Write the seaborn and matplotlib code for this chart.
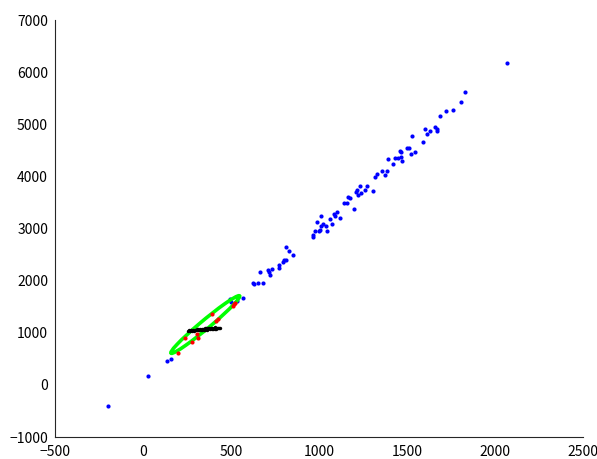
import numpy as np
import pandas as pd
import seaborn as sns
import matplotlib.pyplot as plt
from matplotlib.patches import Ellipse

# blue: all observations
blue_x = [-199, 28, 136, 159, 494, 500, 532, 570, 627, 633, 655, 680, 667, 708, 718, 731,
          722, 771, 773, 797, 803, 811, 811, 831, 852, 964, 968, 976, 1000, 987, 1007,
          1011, 1011, 1021, 1040, 1044, 1062, 1072, 1085, 1091, 1101, 1119, 1140, 1159,
          1167, 1178, 1199, 1208, 1214, 1223, 1235, 1239, 1263, 1273, 1309, 1320, 1328,
          1360, 1373, 1388, 1392, 1422, 1432, 1449, 1458, 1468, 1466, 1473, 1498, 1511,
          1525, 1545, 1527, 1589, 1602, 1614, 1631, 1661, 1669, 1672, 1687, 1722, 1760,
          1805, 1828, 2068]
blue_y = [-405, 171, 458, 497, 1648, 1584, 1609, 1673, 1961, 1930, 1961, 1949, 2166, 2204,
          2160, 2217, 2108, 2294, 2242, 2351, 2396, 2402, 2639, 2575, 2486, 2843, 2876,
          2946, 2958, 3119, 2971, 3240, 3048, 3081, 3054, 2958, 3182, 3081, 3278, 3246,
          3311, 3207, 3483, 3483, 3611, 3579, 3368, 3707, 3739, 3643, 3815, 3687, 3739,
          3815, 3720, 3982, 4046, 4109, 4032, 4109, 4328, 4243, 4347, 4347, 4493, 4468,
          4372, 4289, 4550, 4538, 4429, 4468, 4780, 4654, 4909, 4807, 4876, 4953, 4909,
          4876, 5164, 5254, 5273, 5433, 5613, 6181]

# red: subset inside the ellipse
red_x = [197, 239, 277, 305, 311, 390, 415, 428, 510, 517, 523]
red_y = [618, 894, 829, 970, 906, 1360, 1232, 1270, 1520, 1552, 1577]

# black: projected points
black_x = [255, 262, 268, 275, 281, 287, 292, 297, 302, 306, 311, 315, 320, 324, 328, 333,
           337, 341, 346, 350, 354, 359, 363, 367, 372, 376, 381, 385, 390, 394, 399, 403,
           408, 412, 417, 421, 426, 432, 437]
black_y = [1036, 1044, 1034, 1050, 1040, 1058, 1042, 1061, 1047, 1064, 1045, 1068, 1052,
           1072, 1050, 1074, 1057, 1080, 1055, 1083, 1060, 1087, 1062, 1090, 1066, 1093,
           1068, 1096, 1070, 1098, 1074, 1100, 1077, 1102, 1080, 1097, 1084, 1094, 1090]

# ellipse (data space)
ell_center = (354, 1158)
ell_semi_major = 585
ell_semi_minor = 37
ell_angle = 70.8

blue = pd.DataFrame({"x": blue_x, "y": blue_y})
red = pd.DataFrame({"x": red_x, "y": red_y})
black = pd.DataFrame({"x": black_x, "y": black_y})

sns.set_style("white")
plt.rcParams["font.family"] = ["Noto Sans CJK JP", "DejaVu Sans"]

fig = plt.figure(figsize=(5.97, 4.59), dpi=100)
ax = fig.add_axes([0.0921, 0.0479, 0.8844, 0.9085])

sns.scatterplot(data=blue, x="x", y="y", color="#0000ff", s=9, linewidth=0, ax=ax, zorder=2)
ax.add_patch(Ellipse(ell_center, 2 * ell_semi_major, 2 * ell_semi_minor, angle=ell_angle,
                     fill=False, edgecolor="#00ff00", linewidth=2.6, zorder=3))
sns.scatterplot(data=red, x="x", y="y", color="#ff0000", s=9, linewidth=0, ax=ax, zorder=4)
sns.scatterplot(data=black, x="x", y="y", color="#000000", s=6, linewidth=0, ax=ax, zorder=5)

ax.set_xlim(-500, 2500)
ax.set_ylim(-1000, 7000)
ax.set_xticks(range(-500, 2501, 500))
ax.set_yticks(range(-1000, 7001, 1000))
ax.set_xlabel("")
ax.set_ylabel("")
for side in ["top", "right"]:
    ax.spines[side].set_visible(False)
for side in ["left", "bottom"]:
    ax.spines[side].set_color("#262626")
    ax.spines[side].set_linewidth(0.8)
ax.tick_params(direction="in", length=4, width=0.8, colors="#262626", labelsize=10,
               labelcolor="#000000")
ax.tick_params(axis="x", pad=6)
ax.tick_params(axis="y", pad=5)

fig.savefig("out.png", dpi=100)
